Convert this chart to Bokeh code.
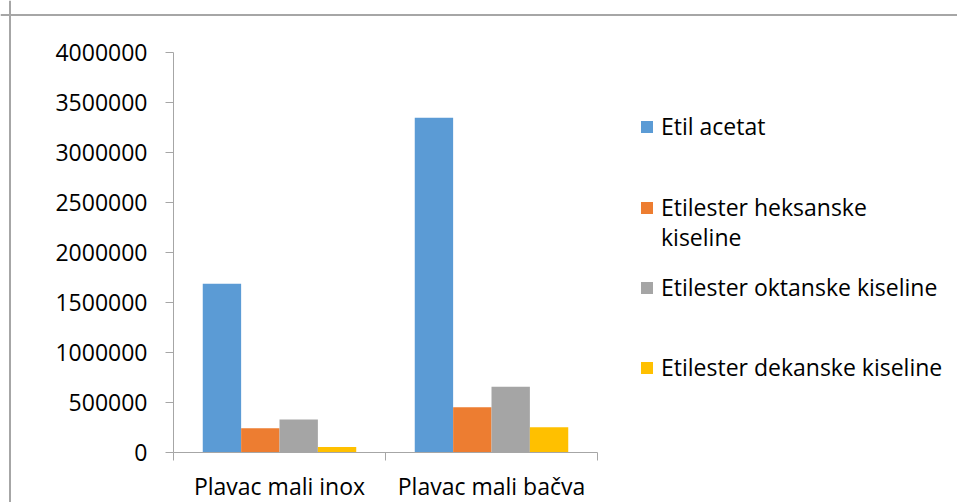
from bokeh.plotting import figure
from bokeh.models import (FixedTicker, Legend, LegendItem, NumeralTickFormatter, Range1d, Span)
from bokeh.embed import file_html
from bokeh.resources import INLINE

# ---- data ----
categories = ["Plavac mali inox", "Plavac mali bačva"]
series_names = ["Etil acetat", "Etilester heksanske kiseline",
                "Etilester oktanske kiseline", "Etilester dekanske kiseline"]
legend_lines = [["Etil acetat"], ["Etilester heksanske", "kiseline"],
                ["Etilester oktanske kiseline"], ["Etilester dekanske kiseline"]]
etil_acetat = [1687000, 3347000]
etilester_heksanske = [243000, 453000]
etilester_oktanske = [330000, 657000]
etilester_dekanske = [55000, 253000]
y_tick_values = [0, 500000, 1000000, 1500000, 2000000, 2500000, 3000000, 3500000, 4000000]

values = [etil_acetat, etilester_heksanske, etilester_oktanske, etilester_dekanske]
colors = ["#5b9bd5", "#ed7d31", "#a5a5a5", "#ffc000"]

# ---- styling / layout constants ----
FONT = "Open Sans"
FS = "23px"
AXIS_COLOR = "#a6a6a6"
BORDER_COLOR = "#a6a6a6"
TEXT_COLOR = "#000000"

PAGE_OFF = 0                    # canvas origin on the page
W, H = 957, 502                 # canvas size
ORIGIN_X, ORIGIN_Y = 173, 452   # page px of the axes origin
PX_PER_CAT = 212                # px per category
PX_PER_Y = 400 / y_tick_values[-1]

n_cat = len(categories)
bar_w = 0.181

x_start = (PAGE_OFF - ORIGIN_X) / PX_PER_CAT
x_end = (PAGE_OFF + W - ORIGIN_X) / PX_PER_CAT
y_start = -(PAGE_OFF + H - ORIGIN_Y) / PX_PER_Y
y_end = (ORIGIN_Y - PAGE_OFF) / PX_PER_Y

p = figure(width=W, height=H,
           x_range=Range1d(x_start, x_end), y_range=Range1d(y_start, y_end),
           output_backend="svg", toolbar_location=None, tools="",
           min_border_left=0, min_border_top=0, min_border_right=0, min_border_bottom=0)
p.grid.visible = False
p.outline_line_color = None
p.background_fill_color = "white"
p.border_fill_color = "white"

# chart-area border (top and left edges visible in the original)
p.add_layout(Span(location=(ORIGIN_Y - 14.5) / PX_PER_Y, dimension="width",
                  line_color=BORDER_COLOR, line_width=2))
p.add_layout(Span(location=(9.5 - ORIGIN_X) / PX_PER_CAT, dimension="height",
                  line_color=BORDER_COLOR, line_width=2))

renderers = []
for j, (vals, col) in enumerate(zip(values, colors)):
    xs = [i + 0.5 + (j - (len(values) - 1) / 2) * bar_w for i in range(n_cat)]
    r = p.vbar(x=xs, top=vals, width=bar_w, bottom=0, fill_color=col, line_color=None)
    renderers.append(r)

# y axis
ya = p.yaxis[0]
ya.fixed_location = 0
ya.bounds = (0, y_tick_values[-1])
ya.ticker = FixedTicker(ticks=y_tick_values)
ya.formatter = NumeralTickFormatter(format="0")
ya.major_tick_out = 8
ya.major_tick_in = 0
ya.minor_tick_out = 0
ya.minor_tick_in = 0
ya.axis_line_color = AXIS_COLOR
ya.major_tick_line_color = AXIS_COLOR
ya.major_label_text_font = FONT
ya.major_label_text_font_size = FS
ya.major_label_text_color = TEXT_COLOR
ya.major_label_standoff = 18

# x axis
xa = p.xaxis[0]
xa.fixed_location = 0
xa.bounds = (0, n_cat)
xa.ticker = FixedTicker(ticks=[i + 0.5 for i in range(n_cat)],
                        minor_ticks=[i for i in range(n_cat + 1)])
xa.major_label_overrides = {i + 0.5: c for i, c in enumerate(categories)}
xa.major_tick_out = 0
xa.major_tick_in = 0
xa.minor_tick_out = 8
xa.minor_tick_in = 0
xa.minor_tick_line_color = AXIS_COLOR
xa.axis_line_color = AXIS_COLOR
xa.major_label_text_font = FONT
xa.major_label_text_font_size = FS
xa.major_label_text_color = TEXT_COLOR
xa.major_label_standoff = 9

# legends: one per text row, positioned like the original
first_line_rows = [126, 207, 287, 367]   # page px (centre of first line)
LINE_PITCH = 30
LEG_X = 639 - PAGE_OFF
LABEL_H = 40
for j in range(len(values)):
    for k, line in enumerate(legend_lines[j]):
        c = first_line_rows[j] + k * LINE_PITCH
        item = LegendItem(label=line, renderers=[renderers[j]] if k == 0 else [])
        leg = Legend(items=[item],
                     location=(LEG_X, (PAGE_OFF + H - c) - LABEL_H / 2),
                     label_text_font=FONT, label_text_font_size=FS,
                     label_text_color=TEXT_COLOR,
                     glyph_width=15, glyph_height=15, label_height=LABEL_H,
                     label_standoff=7, padding=0, margin=0, spacing=0,
                     border_line_color=None, background_fill_alpha=0)
        p.add_layout(leg, "center")

open("out.html", "w").write(file_html(p, INLINE))
